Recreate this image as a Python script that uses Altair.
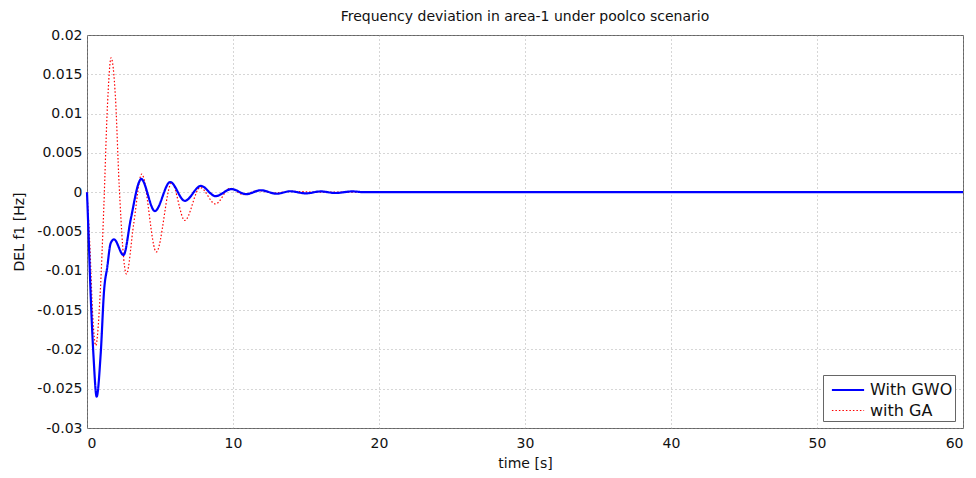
import altair as alt
import pandas as pd

# Series
gwo_t = [0, 0.1, 0.25, 0.45, 0.66, 0.94, 1.17, 1.39, 1.62, 1.85, 2.5, 3.0, 3.57, 3.7,
         4.65, 5.7, 6.7, 7.8, 8.8, 9.9, 10.9, 11.9, 13.0, 13.9, 15.0, 16.0, 17.0, 18.2, 19.0, 60]
gwo_v = [0, -0.005, -0.013, -0.021, -0.026, -0.0205, -0.0125, -0.0095, -0.0065, -0.006, -0.008,
         -0.0034, 0.0013, 0.0017, -0.0024, 0.0013, -0.0011, 0.0008, -0.0005, 0.0004, -0.00025,
         0.00025, -0.0002, 0.00012, -0.00015, 0.0001, -0.0001, 0.0001, 0, 0]

ga_t = [0, 0.2, 0.4, 0.6, 0.9, 1.15, 1.4, 1.65, 1.95, 2.2, 2.7, 3.2, 3.75, 4.75, 5.8, 6.7,
        7.75, 8.8, 9.8, 10.7, 11.7, 12.8, 14.0, 16.0, 60]
ga_v = [0, -0.007, -0.016, -0.0195, -0.013, -0.002, 0.011, 0.0171, 0.012, 0.001, -0.0104,
        -0.004, 0.0023, -0.0076, 0.0012, -0.0036, 0.0006, -0.0015, 0.0005, -0.0003, 0.0002,
        -0.0001, 0.0001, 0, 0]

series_names = ["With GWO", "with GA"]
x_ticks = [0, 10, 20, 30, 40, 50, 60]
y_ticks = [-0.03, -0.025, -0.02, -0.015, -0.01, -0.005, 0, 0.005, 0.01, 0.015, 0.02]

df = pd.concat([
    pd.DataFrame({"t": ga_t, "v": ga_v, "series": series_names[1], "ord": 0}),
    pd.DataFrame({"t": gwo_t, "v": gwo_v, "series": series_names[0], "ord": 1}),
])

FONT = "DejaVu Sans"

legend_kw = dict(title=None, orient="none", legendX=736, legendY=340)

color = alt.Color("series:N",
                  scale=alt.Scale(domain=series_names, range=["#0000ff", "#ff0000"]),
                  legend=alt.Legend(**legend_kw,
                                    symbolType="M-1.4,0H1.4", symbolSize=529,
                                    symbolOffset=10, labelOffset=9,
                                    strokeColor="#666666", fillColor="white",
                                    padding=2, rowPadding=0, labelFontSize=16,
                                    labelFont=FONT, labelColor="#111111",
                                    symbolStrokeWidth=2, labelLimit=200))
dash = alt.StrokeDash("series:N",
                      scale=alt.Scale(domain=series_names, range=[[1, 0], [1.5, 2]]),
                      legend=alt.Legend(**legend_kw))
width = alt.StrokeWidth("series:N",
                        scale=alt.Scale(domain=series_names, range=[2.2, 1.2]),
                        legend=None)

chart = alt.Chart(df).mark_line(interpolate="monotone").encode(
    x=alt.X("t:Q", scale=alt.Scale(domain=[0, 60], nice=False),
            axis=alt.Axis(values=x_ticks, title="time [s]", labelPadding=8, titlePadding=6)),
    y=alt.Y("v:Q", scale=alt.Scale(domain=[-0.03, 0.02], nice=False, zero=False),
            axis=alt.Axis(values=y_ticks, labelExpr="'' + datum.value", title="DEL f1 [Hz]",
                          labelPadding=5, titlePadding=10)),
    color=color,
    strokeDash=dash,
    strokeWidth=width,
    order=alt.Order("ord:Q"),
    detail="series:N",
).properties(
    width=876, height=393,
    autosize=alt.AutoSizeParams(type="none"),
    padding={"left": 79, "top": 27, "right": 5, "bottom": 42},
    title=alt.TitleParams("Frequency deviation in area-1 under poolco scenario",
                          fontSize=14, font=FONT, fontWeight="normal", color="#111111",
                          offset=4),
).configure_view(
    stroke="#666666", strokeWidth=1
).configure_axis(
    labelFont=FONT, titleFont=FONT, labelFontSize=14, titleFontSize=14,
    titleFontWeight="normal", labelColor="#111111", titleColor="#111111",
    domain=False, ticks=False,
    grid=True, gridColor="#999999", gridDash=[1, 3], gridWidth=1, gridOpacity=0.8,
)

chart.save("out.html", embed_options={"renderer": "svg", "actions": False})
